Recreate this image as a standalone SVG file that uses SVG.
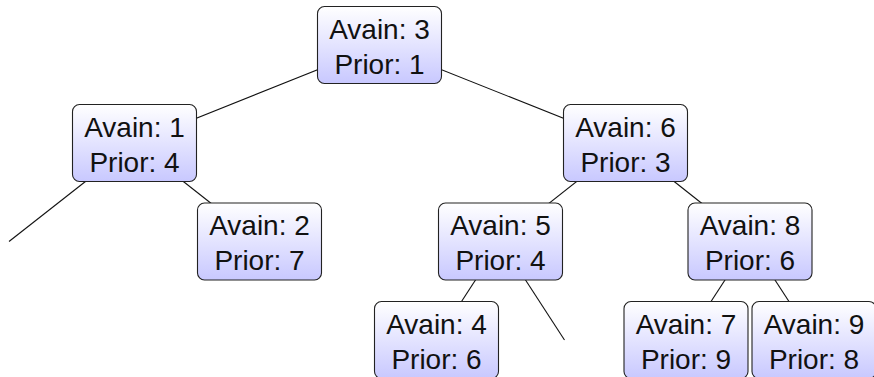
<svg xmlns="http://www.w3.org/2000/svg" width="874" height="377" viewBox="0 0 874 377">
  <defs>
    <linearGradient id="shade" x1="0" y1="0" x2="0" y2="1">
      <stop offset="0" stop-color="#ffffff"/>
      <stop offset="1" stop-color="#c8c8ff"/>
    </linearGradient>
  </defs>
  <style>
    .box { fill: url(#shade); stroke: #222; stroke-width: 1.1; }
    .lbl { font-family: "Liberation Sans", Arial, sans-serif; font-size: 28px; fill: #111; text-anchor: middle; }
    .edge { stroke: #111; stroke-width: 1.1; fill: none; }
  </style>
  <rect width="874" height="377" fill="#ffffff"/>
  <g id="connectors">
    <line class="edge" x1="379.5" y1="45" x2="134.5" y2="143"/>
    <line class="edge" x1="379.5" y1="45" x2="625.5" y2="143"/>
    <line class="edge" x1="134.5" y1="143" x2="9" y2="241.5"/>
    <line class="edge" x1="134.5" y1="143" x2="259.5" y2="241.5"/>
    <line class="edge" x1="625.5" y1="143" x2="500.5" y2="241.5"/>
    <line class="edge" x1="625.5" y1="143" x2="750" y2="241.5"/>
    <line class="edge" x1="500.5" y1="241.5" x2="436.5" y2="340"/>
    <line class="edge" x1="500.5" y1="241.5" x2="564.5" y2="340"/>
    <line class="edge" x1="750" y1="241.5" x2="686" y2="340"/>
    <line class="edge" x1="750" y1="241.5" x2="814" y2="340"/>
  </g>
  <g id="n3">
    <rect class="box" x="317.5" y="6.5" width="124" height="77" rx="7"/>
    <text class="lbl" x="379.5" y="38.5">Avain: 3</text>
    <text class="lbl" x="379.5" y="73.5">Prior: 1</text>
  </g>
  <g id="n1">
    <rect class="box" x="72.5" y="104.5" width="124" height="77" rx="7"/>
    <text class="lbl" x="134.5" y="136.5">Avain: 1</text>
    <text class="lbl" x="134.5" y="171.5">Prior: 4</text>
  </g>
  <g id="n6">
    <rect class="box" x="563.5" y="104.5" width="124" height="77" rx="7"/>
    <text class="lbl" x="625.5" y="136.5">Avain: 6</text>
    <text class="lbl" x="625.5" y="171.5">Prior: 3</text>
  </g>
  <g id="n2">
    <rect class="box" x="197.5" y="203" width="124" height="77" rx="7"/>
    <text class="lbl" x="259.5" y="235">Avain: 2</text>
    <text class="lbl" x="259.5" y="270">Prior: 7</text>
  </g>
  <g id="n5">
    <rect class="box" x="438.5" y="203" width="124" height="77" rx="7"/>
    <text class="lbl" x="500.5" y="235">Avain: 5</text>
    <text class="lbl" x="500.5" y="270">Prior: 4</text>
  </g>
  <g id="n8">
    <rect class="box" x="688" y="203" width="124" height="77" rx="7"/>
    <text class="lbl" x="750" y="235">Avain: 8</text>
    <text class="lbl" x="750" y="270">Prior: 6</text>
  </g>
  <g id="n4">
    <rect class="box" x="374.5" y="301.5" width="124" height="77" rx="7"/>
    <text class="lbl" x="436.5" y="333.5">Avain: 4</text>
    <text class="lbl" x="436.5" y="368.5">Prior: 6</text>
  </g>
  <g id="n7">
    <rect class="box" x="624" y="301.5" width="124" height="77" rx="7"/>
    <text class="lbl" x="686" y="333.5">Avain: 7</text>
    <text class="lbl" x="686" y="368.5">Prior: 9</text>
  </g>
  <g id="n9">
    <rect class="box" x="752" y="301.5" width="124" height="77" rx="7"/>
    <text class="lbl" x="814" y="333.5">Avain: 9</text>
    <text class="lbl" x="814" y="368.5">Prior: 8</text>
  </g>
</svg>
